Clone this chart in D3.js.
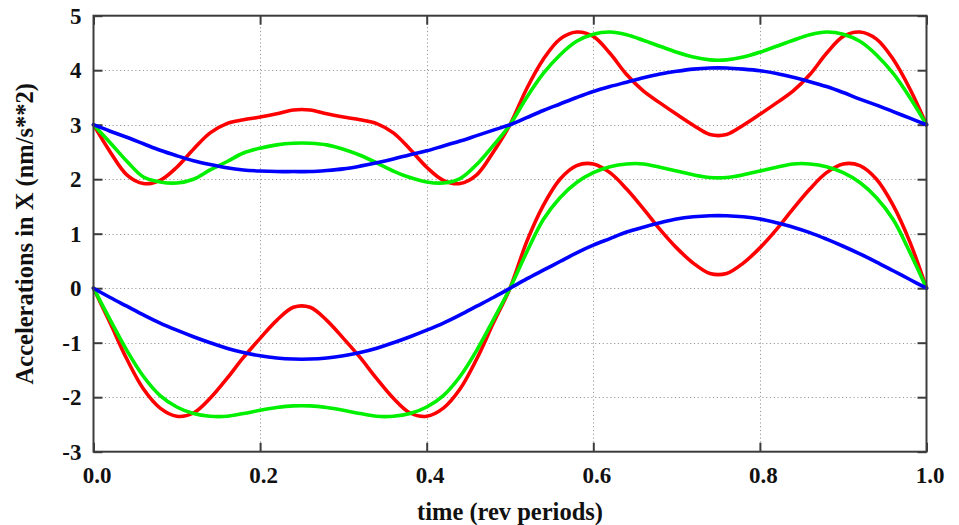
<!DOCTYPE html>
<html><head><meta charset="utf-8">
<script src="https://cdn.jsdelivr.net/npm/d3@7"></script>
<style>html,body{margin:0;padding:0;background:#fff;} svg{display:block;}</style>
</head><body>
<svg id="chart" width="959" height="525"></svg>
<script>
// sample times (rev periods)
const times = [0,0.02,0.04,0.06,0.08,0.10,0.12,0.14,0.16,0.18,0.20,0.22,0.24,0.26,0.28,0.30,0.32,0.34,0.36,0.38,0.40,0.42,0.44,0.46,0.48,0.50,
  0.52,0.54,0.56,0.58,0.60,0.62,0.64,0.66,0.68,0.70,0.72,0.74,0.76,0.78,0.80,0.82,0.84,0.86,0.88,0.90,0.92,0.94,0.96,0.98,1.00];

const xTicks = [0,0.2,0.4,0.6,0.8,1.0];
const xTickLabels = ["0.0","0.2","0.4","0.6","0.8","1.0"];
const yTicks = [-3,-2,-1,0,1,2,3,4,5];
const yTickLabels = ["-3","-2","-1","0","1","2","3","4","5"];
const xTitle = "time (rev periods)";
const yTitle = "Accelerations in X (nm/s**2)";

const redUpper = [3.00,2.50,2.08,1.92,1.98,2.22,2.55,2.85,3.02,3.09,3.14,3.20,3.27,3.27,3.20,3.14,3.09,3.02,2.85,2.55,2.22,1.98,1.92,2.08,2.50,3.00,
  3.66,4.20,4.57,4.70,4.62,4.31,3.92,3.62,3.40,3.19,2.99,2.82,2.82,2.99,3.19,3.40,3.62,3.92,4.31,4.62,4.70,4.57,4.20,3.66,3.00];
const greenUpper = [3.00,2.67,2.33,2.04,1.95,1.93,2.00,2.17,2.32,2.48,2.57,2.63,2.66,2.66,2.63,2.55,2.44,2.30,2.15,2.03,1.95,1.93,2.01,2.27,2.62,3.00,
  3.50,3.94,4.28,4.53,4.66,4.70,4.65,4.55,4.44,4.33,4.24,4.19,4.19,4.24,4.33,4.44,4.55,4.65,4.70,4.66,4.53,4.28,3.94,3.50,3.00];
const blueUpper = [3.00,2.88,2.77,2.65,2.53,2.43,2.34,2.27,2.21,2.17,2.15,2.14,2.14,2.14,2.16,2.19,2.24,2.30,2.37,2.45,2.52,2.61,2.70,2.80,2.90,3.00,
  3.13,3.26,3.38,3.50,3.61,3.70,3.78,3.86,3.93,3.98,4.02,4.04,4.04,4.02,3.99,3.94,3.87,3.79,3.70,3.59,3.47,3.36,3.24,3.12,3.00];
const redLower = [0,-0.64,-1.30,-1.85,-2.20,-2.35,-2.29,-2.02,-1.66,-1.27,-0.92,-0.59,-0.35,-0.35,-0.59,-0.92,-1.27,-1.66,-2.02,-2.29,-2.35,-2.20,-1.85,-1.30,-0.64,0,
  0.85,1.52,2.00,2.25,2.28,2.12,1.82,1.46,1.08,0.74,0.46,0.27,0.27,0.46,0.74,1.08,1.46,1.82,2.12,2.28,2.25,2.00,1.52,0.85,0];
const greenLower = [0,-0.58,-1.14,-1.62,-1.97,-2.18,-2.30,-2.35,-2.35,-2.30,-2.24,-2.19,-2.16,-2.16,-2.19,-2.24,-2.30,-2.35,-2.35,-2.30,-2.18,-1.97,-1.62,-1.14,-0.58,0,
  0.66,1.26,1.66,1.94,2.12,2.23,2.28,2.28,2.22,2.15,2.08,2.03,2.03,2.08,2.15,2.22,2.28,2.28,2.23,2.12,1.94,1.66,1.26,0.66,0];
const blueLower = [0,-0.17,-0.33,-0.49,-0.64,-0.77,-0.89,-1.00,-1.10,-1.18,-1.24,-1.28,-1.30,-1.30,-1.28,-1.24,-1.18,-1.10,-1.00,-0.89,-0.77,-0.64,-0.49,-0.33,-0.17,0,
  0.17,0.33,0.49,0.65,0.79,0.91,1.03,1.12,1.20,1.27,1.31,1.33,1.33,1.31,1.27,1.20,1.12,1.02,0.90,0.77,0.63,0.48,0.32,0.16,0];

// drawing order as in reference: red, green, blue
const series = [
  {values: redLower, color: "#ff0000"},
  {values: redUpper, color: "#ff0000"},
  {values: greenLower, color: "#00f000"},
  {values: greenUpper, color: "#00f000"},
  {values: blueLower, color: "#0000ff"},
  {values: blueUpper, color: "#0000ff"}
];

const svg = d3.select("#chart");
const L = 93.5, R = 926.5, T = 15.7, B = 451.7;
const x = d3.scaleLinear().domain([0,1]).range([L,R]);
const y = d3.scaleLinear().domain([-3,5]).range([B,T]);
const font = "'Liberation Serif','Times New Roman',serif";
const axisColor = "#3c3c3c";

svg.append("rect").attr("width",959).attr("height",525).attr("fill","#fff");

// grid
const grid = svg.append("g").attr("stroke","#9a9a9a").attr("stroke-width",1).attr("stroke-dasharray","1.2,2.6");
grid.selectAll("line.gx").data(xTicks.slice(1,-1)).join("line")
  .attr("x1",d=>Math.round(x(d))+0.5).attr("x2",d=>Math.round(x(d))+0.5).attr("y1",T).attr("y2",B);
grid.selectAll("line.gy").data(yTicks.slice(1,-1)).join("line")
  .attr("y1",d=>Math.round(y(d))+0.5).attr("y2",d=>Math.round(y(d))+0.5).attr("x1",L).attr("x2",R);

// axes with inward ticks (bottom, top, left, right)
const tickLen = 9;
const axBottom = svg.append("g").attr("transform",`translate(0,${B})`)
  .call(d3.axisBottom(x).tickValues(xTicks).tickSize(-tickLen).tickFormat((d,i)=>xTickLabels[i]).tickPadding(15));
const axTop = svg.append("g").attr("transform",`translate(0,${T})`)
  .call(d3.axisTop(x).tickValues(xTicks).tickSize(-tickLen).tickFormat(""));
const axLeft = svg.append("g").attr("transform",`translate(${L},0)`)
  .call(d3.axisLeft(y).tickValues(yTicks).tickSize(-tickLen).tickFormat((d,i)=>yTickLabels[i]).tickPadding(12));
const axRight = svg.append("g").attr("transform",`translate(${R},0)`)
  .call(d3.axisRight(y).tickValues(yTicks).tickSize(-tickLen).tickFormat(""));
[axBottom,axTop,axLeft,axRight].forEach(g=>{
  g.select(".domain").remove();
  g.selectAll(".tick line").attr("stroke",axisColor).attr("stroke-width",2);
  g.selectAll(".tick text").attr("fill","#111").style("font-family",font).style("font-weight","bold").style("font-size","23px");
});
axBottom.selectAll(".tick text").attr("dx","3");

// curves
const line = d3.line().x((d,i)=>x(times[i])).y(d=>y(d)).curve(d3.curveCatmullRom.alpha(0.5));
svg.append("g").selectAll("path").data(series).join("path")
  .attr("d",d=>line(d.values)).attr("fill","none").attr("stroke",d=>d.color)
  .attr("stroke-width",3.6).attr("stroke-linejoin","round").attr("stroke-linecap","round");

// frame
svg.append("rect").attr("x",L).attr("y",T).attr("width",R-L).attr("height",B-T)
  .attr("fill","none").attr("stroke",axisColor).attr("stroke-width",2);

// titles
svg.append("text").attr("x",(L+R)/2).attr("y",520).attr("text-anchor","middle")
  .style("font-family",font).style("font-weight","bold").style("font-size","24.5px").attr("fill","#111").text(xTitle);
svg.append("text").attr("transform",`translate(33,${(T+B)/2}) rotate(-90)`).attr("text-anchor","middle")
  .style("font-family",font).style("font-weight","bold").style("font-size","24.5px").attr("fill","#111").text(yTitle);
</script>
</body></html>
